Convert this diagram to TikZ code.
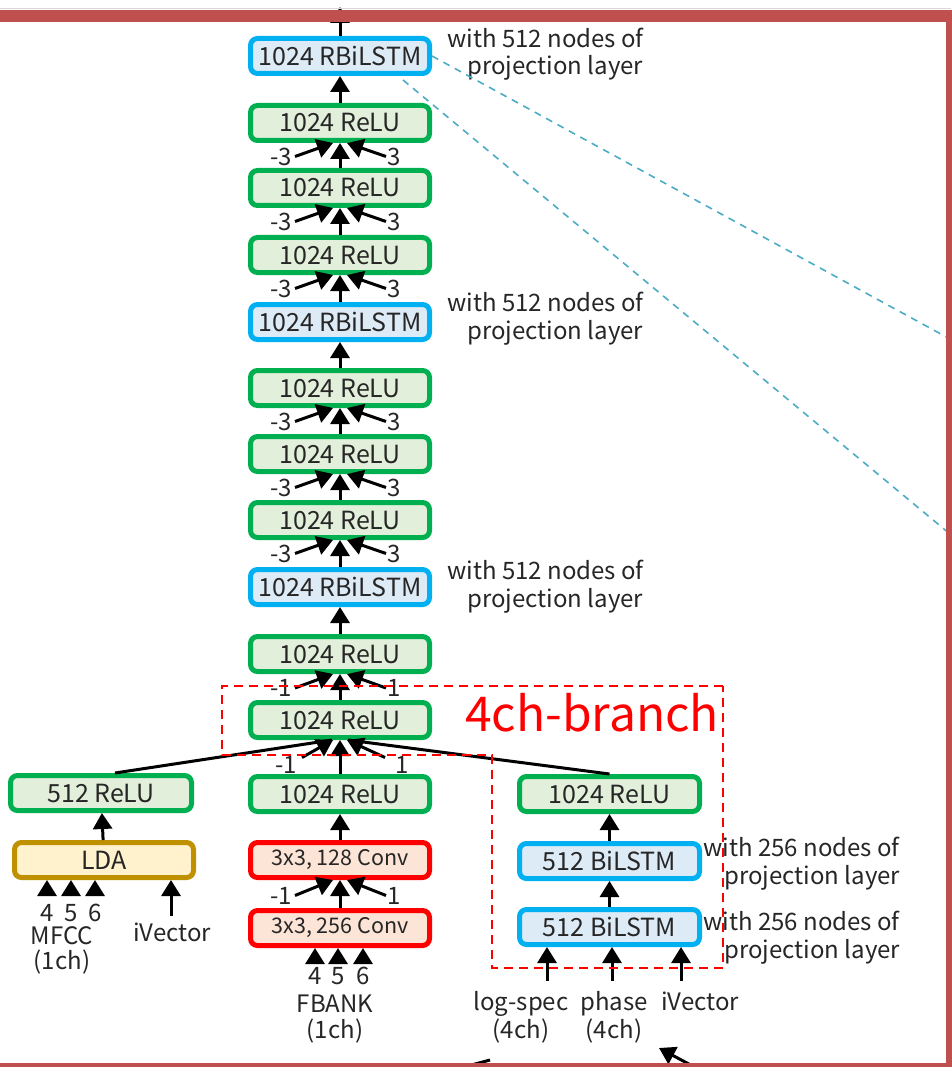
\documentclass[tikz,border=0pt]{standalone}
\usepackage{fontspec}
\setmainfont{Noto Sans CJK JP}
\usetikzlibrary{arrows.meta,calc}
\definecolor{txt}{HTML}{262626}
\definecolor{reluG}{HTML}{00B050}
\definecolor{reluF}{HTML}{E2EFDA}
\definecolor{lstmB}{HTML}{00B0F0}
\definecolor{lstmF}{HTML}{DDEBF7}
\definecolor{convR}{HTML}{FF0000}
\definecolor{convF}{HTML}{FCE4D6}
\definecolor{ldaY}{HTML}{BF9000}
\definecolor{ldaF}{HTML}{FFF2CC}
\definecolor{frameRed}{HTML}{C0504D}
\definecolor{teal}{HTML}{4BACC6}

% three converging arrows into the bottom of #2:
% #1 lower node, #2 upper node, #3/#4 left/right labels, #5 drop of the side tails
\newcommand\fanthree[5]{%
  \draw[arr] (#1.north) -- (#2.south);
  \coordinate (#2-tl) at ($(#2.south)+(-45,#5)$);
  \coordinate (#2-tr) at ($(#2.south)+(46,#5)$);
  \coordinate (#2-hl) at ($(#2.south)+(-7,0)$);
  \coordinate (#2-hr) at ($(#2.south)+(7,0)$);
  \draw[arr] (#2-tl) -- (#2-hl);
  \draw[arr] (#2-tr) -- (#2-hr);
  \node[lab,anchor=east] (#2-ll) at ($(#2-tl)+(-3,0)$) {#3};
  \node[lab,anchor=west] (#2-lr) at ($(#2-tr)+(1,0)$) {#4};
}

\begin{document}
\begin{tikzpicture}[x=1pt,y=-1pt,
  box/.style={rounded corners=7pt,line width=5pt,minimum width=179pt,minimum height=35pt,
              inner sep=0pt,text=txt,font=\fontsize{25}{29}\selectfont},
  relu/.style={box,draw=reluG,fill=reluF},
  lstm/.style={box,draw=lstmB,fill=lstmF},
  conv/.style={box,draw=convR,fill=convF,font=\fontsize{21.5}{25}\selectfont},
  lda/.style={box,draw=ldaY,fill=ldaF},
  arr/.style={line width=3pt,draw=black,-{Triangle[width=19pt,length=16pt]}},
  lab/.style={font=\fontsize{24}{28}\selectfont,text=txt,inner sep=0pt},
  note/.style={font=\fontsize{24}{28}\selectfont,text=txt,inner sep=0pt,anchor=base west},
  inlab/.style={font=\fontsize{24}{28}\selectfont,text=txt,inner sep=0pt,anchor=base},
  branch/.style={draw=red,line width=2pt,dash pattern=on 9pt off 6pt},
  zoomline/.style={draw=teal,line width=1.6pt,dash pattern=on 7pt off 6pt},
]
\useasboundingbox (0,0) rectangle (951,1067);
\fill[white] (0,0) rectangle (951,1067);

% main column
\node[lstm] (r1) at (340,56)  {1024 RBiLSTM};
\node[relu] (a1) at (340,123) {1024 ReLU};
\node[relu] (a2) at (340,188) {1024 ReLU};
\node[relu] (a3) at (340,255) {1024 ReLU};
\node[lstm] (r2) at (340,322) {1024 RBiLSTM};
\node[relu] (a4) at (340,388) {1024 ReLU};
\node[relu] (a5) at (340,454) {1024 ReLU};
\node[relu] (a6) at (340,520) {1024 ReLU};
\node[lstm] (r3) at (340,587) {1024 RBiLSTM};
\node[relu] (a7) at (340,654) {1024 ReLU};
\node[relu] (a8) at (340,720) {1024 ReLU};
\node[relu] (a9) at (340,794) {1024 ReLU};
\node[conv] (c1) at (340,860) {3x3, 128 Conv};
\node[conv] (c2) at (340,928) {3x3, 256 Conv};

% MFCC branch
\node[relu,minimum width=181pt] (l1) at (101,793) {512 ReLU};
\node[lda] (lda) at (104,860) {LDA};

% multichannel branch
\node[relu,minimum width=180pt] (b1) at (609.5,794) {1024 ReLU};
\node[lstm,minimum width=180pt] (s1) at (609.5,861) {512 BiLSTM};
\node[lstm,minimum width=180pt] (s2) at (609.5,927) {512 BiLSTM};

% projection-layer notes
\node[note] (n1a) at (447,48)  {with 512 nodes of};
\node[note] (n1b) at (467,75)  {projection layer};
\node[note] (n2a) at (447,311) {with 512 nodes of};
\node[note] (n2b) at (467,339) {projection layer};
\node[note] (n3a) at (447,579) {with 512 nodes of};
\node[note] (n3b) at (467,607) {projection layer};
\node[note] (n4a) at (703,856) {with 256 nodes of};
\node[note] (n4b) at (724,884) {projection layer};
\node[note] (n5a) at (703,930) {with 256 nodes of};
\node[note] (n5b) at (724,958) {projection layer};

% single arrows
\draw[arr] (a1) -- (r1);
\draw[arr] (a4) -- (r2);
\draw[arr] (a7) -- (r3);
\draw[arr] (c1) -- (a9);
\draw[arr] (lda) -- (l1);
\draw[arr] (s1) -- (b1);
\draw[arr] (s2) -- (s1);
\coordinate (out) at (340,7);
\draw[arr] (r1) -- (out);

% context-splicing fans
\fanthree{a2}{a1}{-3}{3}{13.5}
\fanthree{a3}{a2}{-3}{3}{13.5}
\fanthree{r2}{a3}{-3}{3}{13.5}
\fanthree{a5}{a4}{-3}{3}{13.5}
\fanthree{a6}{a5}{-3}{3}{13.5}
\fanthree{r3}{a6}{-3}{3}{13.5}
\fanthree{a8}{a7}{-1}{1}{14}
\fanthree{c2}{c1}{-1}{1}{15.5}

% merge into the 4ch-branch layer
\coordinate (l1t) at ($(l1.north)+(14,0)$);
\coordinate (a8ml) at ($(a8.south)+(-8,0)$);
\coordinate (a8mr) at ($(a8.south)+(8,0)$);
\draw[line width=3pt] (l1t) -- (a8ml);
\draw[line width=3pt] (b1.north) -- (a8mr);
\draw[arr] (a9.north) -- (a8.south);
\coordinate (a8-tl) at ($(a8.south)+(-38,17.5)$);
\coordinate (a8-tr) at ($(a8.south)+(45,17.5)$);
\draw[arr] (a8-tl) -- ($(a8.south)+(-7,0)$);
\draw[arr] (a8-tr) -- ($(a8.south)+(7,0)$);
\node[lab,anchor=east] (a8-ll) at ($(a8.south)+(-43,24.5)$) {-1};
\node[lab,anchor=west] (a8-lr) at ($(a8.south)+(55,24.5)$) {1};

% MFCC and iVector inputs
\foreach \x/\d [count=\i] in {47/4,71/5,95/6}{
  \coordinate (m\i) at (\x,895);
  \draw[arr] (m\i) -- (m\i |- lda.south);
  \node[inlab] (md\i) at (\x,921) {\d};
}
\node[inlab] (mfcc) at (62,944) {MFCC};
\node[inlab] (mfcc1) at (62,969) {(1ch)};
\coordinate (iv1) at (171,916);
\draw[arr] (iv1) -- (iv1 |- lda.south);
\node[inlab] (ivl1) at (172,941) {iVector};

% FBANK inputs
\foreach \x/\d [count=\i] in {315/4,338/5,363/6}{
  \coordinate (f\i) at (\x,959);
  \draw[arr] (f\i) -- (f\i |- c2.south);
  \node[inlab] (fd\i) at (\x,984) {\d};
}
\node[inlab] (fbank) at (335,1012) {FBANK};
\node[inlab] (fbank1) at (335,1038) {(1ch)};

% multichannel inputs
\foreach \x [count=\i] in {547,612,681}{
  \coordinate (p\i) at (\x,981);
  \draw[arr] (p\i) -- (p\i |- s2.south);
}
\node[inlab] (lsp) at (521,1010) {log-spec};
\node[inlab] (lsp1) at (521,1038) {(4ch)};
\node[inlab] (ph) at (614,1010) {phase};
\node[inlab] (ph1) at (614,1038) {(4ch)};
\node[inlab] (ivl2) at (700,1010) {iVector};

% 4ch-branch outline
\draw[branch] (723,686) -- (222,686) -- (222,755) -- (492,755) -- (492,968) -- (723,968) -- cycle;
\node[font=\fontsize{48}{52}\selectfont,text=red,inner sep=0pt,anchor=base west] (br) at (465,731) {4ch-branch};

% zoom lines to the right
\coordinate (r1z) at ($(r1.south)+(63,4)$);
\coordinate (z1) at (950,339);
\coordinate (z2) at (950,534);
\draw[zoomline] (r1.east) -- (z1);
\draw[zoomline] (r1z) -- (z2);

% pieces reaching in from below the frame
\coordinate (q1) at (464,1067);
\coordinate (q2) at (490,1060);
\draw[line width=3pt] (q1) -- (q2);
\coordinate (q3) at (700,1070);
\coordinate (q4) at (659,1048);
\draw[arr] (q3) -- (q4);

% frame
\draw[black!15,line width=1pt] (0,8.5) -- (951,8.5);
\draw[frameRed,line width=12pt] (-20,16) -- (952,16) -- (952,1069) -- (-20,1069);
\end{tikzpicture}
\end{document}
